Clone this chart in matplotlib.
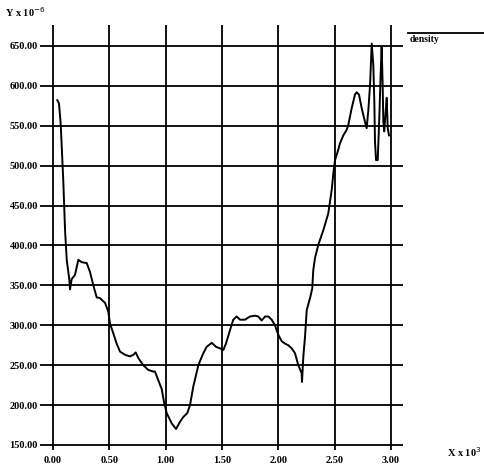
import matplotlib
matplotlib.use("Agg")
import matplotlib.pyplot as plt
from matplotlib.lines import Line2D

# density curve, x in units of 10^3, y in units of 10^-6
x = [0.038, 0.053, 0.068, 0.091, 0.107, 0.122, 0.145, 0.151, 0.166, 0.195,
     0.225, 0.255, 0.299, 0.328, 0.358, 0.388, 0.417, 0.462, 0.491, 0.506,
     0.535, 0.565, 0.595, 0.639, 0.683, 0.713, 0.734, 0.757, 0.801, 0.846,
     0.890, 0.905, 0.935, 0.965, 0.985, 1.009, 1.054, 1.092, 1.127, 1.156,
     1.192, 1.216, 1.245, 1.290, 1.334, 1.364, 1.409, 1.447, 1.482, 1.512,
     1.535, 1.571, 1.600, 1.630, 1.660, 1.704, 1.748, 1.793, 1.822, 1.852,
     1.882, 1.911, 1.941, 1.970, 2.000, 2.030, 2.059, 2.088, 2.119, 2.148,
     2.177, 2.207, 2.210, 2.222, 2.237, 2.252, 2.281, 2.301, 2.310, 2.325,
     2.355, 2.399, 2.443, 2.474, 2.488, 2.503, 2.532, 2.547, 2.577, 2.607,
     2.621, 2.651, 2.680, 2.695, 2.716, 2.740, 2.769, 2.784, 2.798, 2.814,
     2.829, 2.843, 2.852, 2.858, 2.867, 2.882, 2.896, 2.908, 2.917, 2.926,
     2.932, 2.940, 2.953, 2.962, 2.971, 2.982]
density = [582, 578, 553, 482, 419, 382, 357, 345, 358, 363,
           382, 379, 378, 367, 350, 335, 334, 328, 317, 302,
           290, 277, 267, 263, 261, 263, 266, 259, 250, 244,
           242, 242, 231, 220, 204, 190, 177, 170, 179, 185,
           190, 200, 223, 250, 265, 273, 278, 273, 271, 269,
           277, 294, 307, 311, 307, 307, 311, 312, 311, 306,
           311, 311, 307, 300, 288, 280, 277, 275, 271, 265,
           250, 240, 229, 261, 286, 319, 334, 346, 369, 384,
           401, 419, 440, 470, 490, 507, 520, 528, 538, 545,
           551, 572, 589, 592, 589, 572, 555, 547, 568, 601,
           653, 626, 580, 530, 507, 507, 559, 614, 649, 601,
           555, 543, 568, 585, 547, 538]

xticks = [0.0, 0.5, 1.0, 1.5, 2.0, 2.5, 3.0]
yticks = [150, 200, 250, 300, 350, 400, 450, 500, 550, 600, 650]

plt.rcParams['font.family'] = ['Liberation Serif', 'DejaVu Serif']

fig = plt.figure(figsize=(4.84, 4.66), dpi=100)
# axes box in pixels: left 40, right 403, top 25, bottom 450
ax = fig.add_axes([40 / 484, 16 / 466, 363 / 484, 425 / 466])
ax.set_xlim(-0.1154, 3.1065)
ax.set_ylim(143.7, 676.3)

for xv in xticks:
    ax.axvline(xv, color='black', lw=1.3, zorder=1)
for yv in yticks:
    ax.axhline(yv, color='black', lw=1.3, zorder=1)

ax.plot(x, density, color='black', lw=1.4, zorder=3)

ax.set_xticks(xticks)
ax.set_xticklabels([f"{v:.2f}" for v in xticks])
ax.set_yticks(yticks)
ax.set_yticklabels([f"{v:.2f}" for v in yticks])
ax.tick_params(length=0, labelsize=7.5)
ax.tick_params(axis='x', pad=4.5)
ax.tick_params(axis='y', pad=1.5)
for lab in ax.get_xticklabels() + ax.get_yticklabels():
    lab.set_fontweight('bold')
for s in ax.spines.values():
    s.set_visible(False)

fig.text(5 / 484, 1 - 12 / 466, r"Y x 10$^{-6}$", fontsize=7.5, fontweight='bold',
         va='center', ha='left')
fig.text(447 / 484, 1 - 452 / 466, r"X x 10$^{3}$", fontsize=7.5, fontweight='bold',
         va='center', ha='left')

# legend: line above the label
fig.add_artist(Line2D([408 / 484, 484 / 484], [1 - 33 / 466, 1 - 33 / 466],
                      color='black', lw=1.3))
fig.text(410 / 484, 1 - 40 / 466, "density", fontsize=7, fontweight='bold',
         va='center', ha='left')

fig.savefig("out.png", dpi=100)
